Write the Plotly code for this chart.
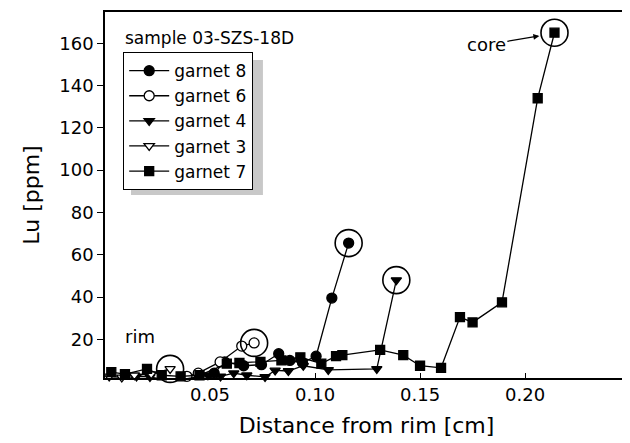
import plotly.graph_objects as go

# Lu profiles across garnets, sample 03-SZS-18D
g8_x = [0.052, 0.057, 0.066, 0.0745, 0.0827, 0.088, 0.094, 0.1005, 0.108, 0.116]
g8_y = [4.0, 9.3, 7.5, 8.0, 13.2, 10.0, 9.0, 12.0, 39.5, 65.5]

g6_x = [0.039, 0.0444, 0.0548, 0.0651, 0.071]
g6_y = [2.5, 4.0, 9.3, 16.8, 18.3]

g4_x = [0.004, 0.0095, 0.015, 0.0214, 0.0286, 0.0365, 0.0405, 0.049, 0.055, 0.0613,
        0.0675, 0.0762, 0.081, 0.0873, 0.0944, 0.1063, 0.1294, 0.1387]
g4_y = [1.5, 1.0, 2.5, 2.2, 0.8, 1.0, 1.6, 3.0, 2.5, 4.0,
        3.0, 2.2, 5.3, 5.0, 7.5, 5.5, 6.0, 48.0]

g3_x = [0.002, 0.008, 0.014, 0.022, 0.031]
g3_y = [2.5, 2.0, 3.0, 3.5, 6.0]

g7_x = [0.003, 0.0095, 0.020, 0.027, 0.036, 0.045, 0.058, 0.064, 0.074, 0.084, 0.093,
        0.103, 0.110, 0.113, 0.131, 0.142, 0.150, 0.160, 0.169, 0.175, 0.189, 0.206, 0.214]
g7_y = [4.5, 3.5, 6.0, 3.0, 2.5, 3.0, 8.5, 8.8, 9.3, 10.0, 11.5,
        8.5, 12.0, 12.5, 15.0, 12.5, 7.5, 6.5, 30.5, 28.0, 37.5, 134.0, 165.0]

# grain cores (circled)
core_x = [g3_x[-1], g6_x[-1], g8_x[-1], g4_x[-1], g7_x[-1]]
core_y = [g3_y[-1], g6_y[-1], g8_y[-1], g4_y[-1], g7_y[-1]]

FONT = "DejaVu Sans, sans-serif"

fig = go.Figure()

series = [
    ("garnet 8", g8_x, g8_y, "circle", "black", 10),
    ("garnet 6", g6_x, g6_y, "circle", "white", 10),
    ("garnet 4", g4_x, g4_y, "triangle-down", "black", 9),
    ("garnet 3", g3_x, g3_y, "triangle-down", "white", 9),
    ("garnet 7", g7_x, g7_y, "square", "black", 9),
]
for name, xs, ys, sym, fill, sz in series:
    fig.add_trace(go.Scatter(
        x=xs, y=ys, name=name, mode="lines+markers", cliponaxis=False,
        line=dict(color="black", width=1.3),
        marker=dict(symbol=sym, size=sz, color=fill,
                    line=dict(color="black", width=1.3)),
    ))

fig.add_trace(go.Scatter(
    x=core_x, y=core_y, mode="markers", showlegend=False, cliponaxis=False,
    marker=dict(symbol="circle-open", size=27, color="black", line=dict(width=1.6)),
))

# legend drop shadow
fig.add_shape(type="rect", xref="paper", yref="paper",
              x0=0.0497, x1=0.302, y0=0.50, y1=0.869,
              fillcolor="#c8c8c8", line=dict(width=0), layer="below")

fig.add_annotation(text="sample 03-SZS-18D", xref="paper", yref="paper",
                   x=0.034, y=0.929, xanchor="left", yanchor="middle",
                   showarrow=False, font=dict(size=17))
fig.add_annotation(text="rim", xref="paper", yref="paper",
                   x=0.034, y=0.113, xanchor="left", yanchor="middle",
                   showarrow=False, font=dict(size=18))
fig.add_annotation(text="core", x=0.2068, y=163.5, ax=-53, ay=9,
                   showarrow=True, arrowhead=2, arrowsize=1, arrowwidth=1.2,
                   arrowcolor="black", font=dict(size=18))

# the page body adds an 8px offset, so margins are shifted by that amount
fig.update_layout(
    width=630, height=443,
    margin=dict(l=97, r=10, t=4, b=73),
    paper_bgcolor="white", plot_bgcolor="white",
    font=dict(family=FONT, size=18, color="black"),
    legend=dict(x=0.0344, y=0.891, xanchor="left", yanchor="top",
                bgcolor="white", bordercolor="black", borderwidth=1.2,
                font=dict(size=17), tracegroupgap=0, itemwidth=40),
)
fig.update_xaxes(range=[0, 0.249], tickvals=[0.05, 0.10, 0.15, 0.20], tickformat=".2f",
                 ticks="inside", ticklen=5, tickwidth=1.3, tickcolor="black",
                 showline=True, linecolor="black", linewidth=1.5, mirror=True,
                 showgrid=False, zeroline=False, automargin=False,
                 title=dict(text="Distance from rim [cm]", standoff=13))
fig.update_yaxes(range=[1.7, 174.8], tickvals=[20, 40, 60, 80, 100, 120, 140, 160],
                 ticks="outside", ticklen=6, tickwidth=1.3, tickcolor="black",
                 showline=True, linecolor="black", linewidth=1.5, mirror=True,
                 showgrid=False, zeroline=False, automargin=False,
                 title=dict(text="Lu [ppm]", standoff=14))

fig.write_html("out.html")
